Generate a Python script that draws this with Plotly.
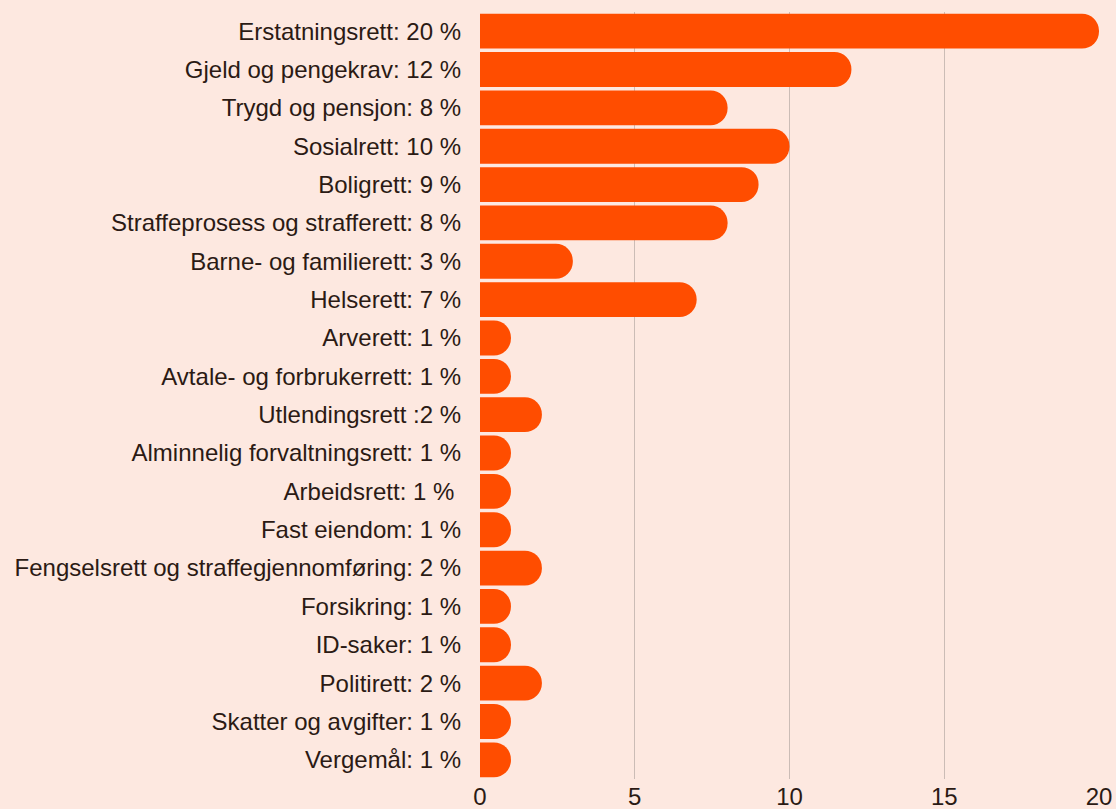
import plotly.graph_objects as go

categories = [
    "Erstatningsrett: 20 %",
    "Gjeld og pengekrav: 12 %",
    "Trygd og pensjon: 8 %",
    "Sosialrett: 10 %",
    "Boligrett: 9 %",
    "Straffeprosess og strafferett: 8 %",
    "Barne- og familierett: 3 %",
    "Helserett: 7 %",
    "Arverett: 1 %",
    "Avtale- og forbrukerrett: 1 %",
    "Utlendingsrett :2 %",
    "Alminnelig forvaltningsrett: 1 %",
    "Arbeidsrett: 1 % ",
    "Fast eiendom: 1 %",
    "Fengselsrett og straffegjennomføring: 2 %",
    "Forsikring: 1 %",
    "ID-saker: 1 %",
    "Politirett: 2 %",
    "Skatter og avgifter: 1 %",
    "Vergemål: 1 %",
]
values = [20, 12, 8, 10, 9, 8, 3, 7, 1, 1, 2, 1, 1, 1, 2, 1, 1, 2, 1, 1]
tick_values = [0, 5, 10, 15, 20]

BG = "#fde8e0"
BAR = "#ff4d00"
TEXT = "#2b1a14"

fig = go.Figure(
    go.Bar(
        x=values,
        y=categories,
        orientation="h",
        marker=dict(color=BAR, line=dict(width=0)),
        hoverinfo="x+y",
    )
)

fig.update_layout(
    width=1116,
    height=809,
    paper_bgcolor=BG,
    plot_bgcolor=BG,
    margin=dict(l=480, r=17, t=12, b=30, autoexpand=False),
    bargap=0.09,
    barcornerradius="50%",
    showlegend=False,
    font=dict(family="Liberation Sans, Arial, sans-serif", size=24, color=TEXT),
)
fig.update_xaxes(
    range=[0, 20],
    tickvals=tick_values,
    showgrid=True,
    gridcolor="#cbbcb6",
    gridwidth=1,
    zeroline=False,
    showline=False,
    ticks="",
    tickfont=dict(size=24),
    ticklabelstandoff=1,
    automargin=False,
)
fig.update_yaxes(
    autorange="reversed",
    showgrid=False,
    zeroline=False,
    showline=False,
    ticks="",
    ticklabelstandoff=18,
    automargin=False,
)

fig.write_html(
    "out.html",
    config={"displayModeBar": False},
    post_script="document.body.style.margin='0';document.body.style.overflow='hidden';",
)
